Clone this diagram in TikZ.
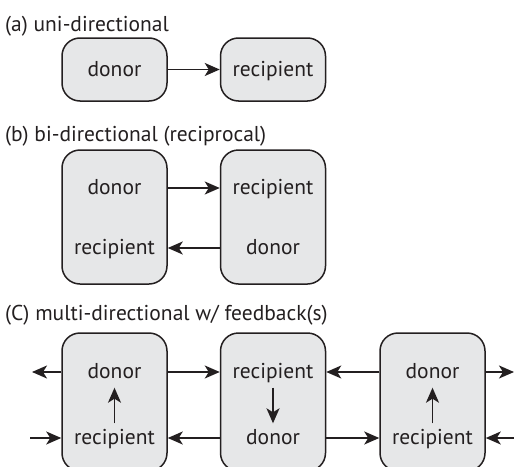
\documentclass[tikz,border=0pt]{standalone}
\usepackage{fontspec}
\setmainfont{PT Sans}
\usetikzlibrary{arrows.meta}
\definecolor{ink}{HTML}{231F20}
\definecolor{boxfill}{HTML}{E6E7E8}
\begin{document}
\begin{tikzpicture}[x=1pt,y=-1pt,
  every node/.style={font=\fontsize{21.5}{26}\selectfont, text=ink},
  agent/.style={draw=ink, fill=boxfill, line width=1.5pt, rounded corners=18pt,
    minimum width=105pt, inner sep=0pt},
  role/.style={inner sep=0pt, text height=17pt, text depth=4pt},
  caption/.style={anchor=base west, inner sep=0pt},
  flow/.style={draw=ink, line width=1.7pt,
    -{Stealth[length=15pt,width=13pt,inset=4pt]}}]
\useasboundingbox (0,0) rectangle (514,466);

% (a) one-way transfer
\node[caption] (capA) at (5,31) {(a) uni-directional};
\node[agent, minimum height=63pt] (a1) at (114.5,69.5) {};
\node[agent, minimum height=63pt] (a2) at (273,69.5) {};
\node[role] (a1t) at (a1.center) {donor};
\node[role] (a2t) at (a2.center) {recipient};
\draw[flow] (a1.east |- a1t.center) -- (a2.west |- a2t.center);

% (b) reciprocal transfer
\node[caption] (capB) at (5,141) {(b) bi-directional (reciprocal)};
\node[agent, minimum height=134pt] (b1) at (114.5,217) {};
\node[agent, minimum height=134pt] (b2) at (273,217) {};
\node[role] (b1t) at (114.5,188) {donor};
\node[role] (b1b) at (114.5,248) {recipient};
\node[role] (b2t) at (273,188) {recipient};
\node[role] (b2b) at (273,248) {donor};
\draw[flow] (b1.east |- b1t.center) -- (b2.west |- b2t.center);
\draw[flow] (b2.west |- b2b.center) -- (b1.east |- b1b.center);

% (c) chain with feedback
\node[caption] (capC) at (5,320) {(C) multi-directional w/ feedback(s)};
\node[agent, minimum height=138pt] (c1) at (114.5,402) {};
\node[agent, minimum height=138pt] (c2) at (273,402) {};
\node[agent, minimum height=138pt] (c3) at (432.5,402) {};
\node[role] (c1t) at (114.5,372) {donor};
\node[role] (c1b) at (114.5,438) {recipient};
\node[role] (c2t) at (273,372) {recipient};
\node[role] (c2b) at (273,438) {donor};
\node[role] (c3t) at (432.5,372) {donor};
\node[role] (c3b) at (432.5,438) {recipient};

\coordinate (outL) at (32,372);
\coordinate (inL) at (30,438);
\coordinate (outR) at (514,372);
\coordinate (inR) at (514,438);

% internal hand-over inside each agent
\draw[flow, shorten <=4pt, shorten >=5pt] (c1b.north) -- (c1t.south);
\draw[flow, shorten <=5pt, shorten >=4pt] (c2t.south) -- (c2b.north);
\draw[flow, shorten <=4pt, shorten >=5pt] (c3b.north) -- (c3t.south);

% upper row
\draw[flow] (c1.west |- c1t.center) -- (outL);
\draw[flow] (c1.east |- c1t.center) -- (c2.west |- c2t.center);
\draw[flow] (c3.west |- c3t.center) -- (c2.east |- c2t.center);
\draw[flow] (c3.east |- c3t.center) -- (outR);

% lower row
\draw[flow] (inL) -- (c1.west |- c1b.center);
\draw[flow] (c2.west |- c2b.center) -- (c1.east |- c1b.center);
\draw[flow] (c2.east |- c2b.center) -- (c3.west |- c3b.center);
\draw[flow] (inR) -- (c3.east |- c3b.center);
\end{tikzpicture}
\end{document}
